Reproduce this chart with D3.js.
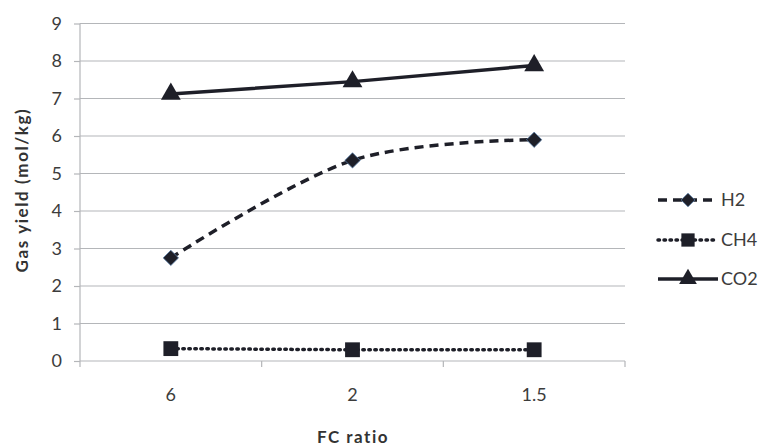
<!DOCTYPE html>
<html><head><meta charset="utf-8">
<script src="https://cdn.jsdelivr.net/npm/d3@7"></script>
<style>body{margin:0;background:#fff;}svg{display:block;}</style>
</head><body>
<svg id="c" width="762" height="448"></svg>
<script>
const categories = ["6", "2", "1.5"];
const yTicks = [0,1,2,3,4,5,6,7,8,9];
const h2 = [2.75, 5.35, 5.9];
const ch4 = [0.33, 0.30, 0.30];
const co2 = [7.12, 7.45, 7.88];
const seriesNames = ["H2", "CH4", "CO2"];

const svg = d3.select("#c");
const pL = 80, pR = 625, pT = 23.5, pB = 361;
const x = d3.scaleBand().domain(categories).range([pL, pR]);
const y = d3.scaleLinear().domain([0, 9]).range([pB, pT]);
const font = "Lato, 'Open Sans', sans-serif";
const gridCol = "#b4b6b9";
const markCol = "#1e1f28";
const txtCol = "#3c3c3c";

// gridlines
svg.append("g").selectAll("line").data(yTicks.filter(d => d > 0)).join("line")
  .attr("x1", pL).attr("x2", pR)
  .attr("y1", d => y(d)).attr("y2", d => y(d))
  .attr("stroke", gridCol).attr("stroke-width", 1.2);

// y axis
const ya = svg.append("g").attr("transform", `translate(${pL},0)`)
  .call(d3.axisLeft(y).tickValues(yTicks).tickSize(6).tickPadding(12).tickFormat(d3.format("d")));
ya.select(".domain").attr("stroke", gridCol).attr("stroke-width", 1.2).attr("d", `M0,${pT}V${pB}`);
ya.selectAll(".tick line").attr("stroke", gridCol).attr("stroke-width", 1.2);
ya.selectAll("text").attr("font-family", font).attr("font-size", 18).attr("fill", txtCol);

// x axis
const xa = svg.append("g").attr("transform", `translate(0,${pB})`)
  .call(d3.axisBottom(x).tickSize(0).tickPadding(27));
xa.select(".domain").attr("stroke", gridCol).attr("stroke-width", 1.2).attr("d", `M${pL},0H${pR}`);
xa.selectAll("text").attr("font-family", font).attr("font-size", 18).attr("fill", txtCol);
const bound = [pL].concat(categories.map(c => x(c) + x.bandwidth()));
svg.append("g").selectAll("line").data(bound).join("line")
  .attr("x1", d => d).attr("x2", d => d).attr("y1", pB).attr("y2", pB + 6)
  .attr("stroke", gridCol).attr("stroke-width", 1.2);

// axis titles
svg.append("text").attr("x", 353).attr("y", 443).attr("text-anchor", "middle")
  .attr("font-family", font).attr("font-weight", "bold").attr("font-size", 17)
  .attr("letter-spacing", 1.5).attr("fill", "#333")
  .text("FC ratio");
svg.append("text").attr("transform", `translate(28,${190}) rotate(-90)`).attr("text-anchor", "middle")
  .attr("font-family", font).attr("font-weight", "bold").attr("font-size", 17)
  .attr("letter-spacing", 1.6).attr("fill", "#333")
  .text("Gas yield (mol/kg)");

const cx = c => x(c) + x.bandwidth() / 2;
const series = [
  {name: "H2", vals: h2, dash: "9,6", curve: d3.curveCatmullRom.alpha(0), sym: d3.symbolDiamond2, size: 150},
  {name: "CH4", vals: ch4, dash: "1.5,4.5", curve: d3.curveLinear, sym: d3.symbolSquare, size: 220},
  {name: "CO2", vals: co2, dash: null, curve: d3.curveLinear, sym: d3.symbolTriangle, size: 170}
];

series.forEach(s => {
  const line = d3.line().x((d, i) => cx(categories[i])).y(d => y(d)).curve(s.curve);
  svg.append("path").attr("d", line(s.vals)).attr("fill", "none")
    .attr("stroke", markCol).attr("stroke-width", 3.5)
    .attr("stroke-dasharray", s.dash).attr("stroke-linecap", s.name === "CH4" ? "round" : "butt");
  svg.append("g").selectAll("path").data(s.vals).join("path")
    .attr("transform", (d, i) => `translate(${cx(categories[i])},${y(d)})`)
    .attr("d", d3.symbol().type(s.sym).size(s.size)())
    .attr("fill", markCol)
    .attr("stroke", s.name === "H2" ? "#5a7fa8" : "none").attr("stroke-width", 0.8);
});

// legend
const legY = {H2: 200, CH4: 240, CO2: 279};
series.forEach(s => {
  const ly = legY[s.name];
  svg.append("line").attr("x1", 658).attr("x2", 718).attr("y1", ly).attr("y2", ly)
    .attr("stroke", markCol).attr("stroke-width", 3.5)
    .attr("stroke-dasharray", s.dash).attr("stroke-linecap", s.name === "CH4" ? "round" : "butt");
  svg.append("path").attr("transform", `translate(688,${ly})`)
    .attr("d", d3.symbol().type(s.sym).size(s.size * 0.8)())
    .attr("fill", markCol).attr("stroke", s.name === "H2" ? "#5a7fa8" : "none").attr("stroke-width", 0.8);
  svg.append("text").attr("x", 721).attr("y", ly).attr("dy", "0.36em")
    .attr("font-family", font).attr("font-size", 18).attr("fill", txtCol).text(s.name);
});
</script>
</body></html>
